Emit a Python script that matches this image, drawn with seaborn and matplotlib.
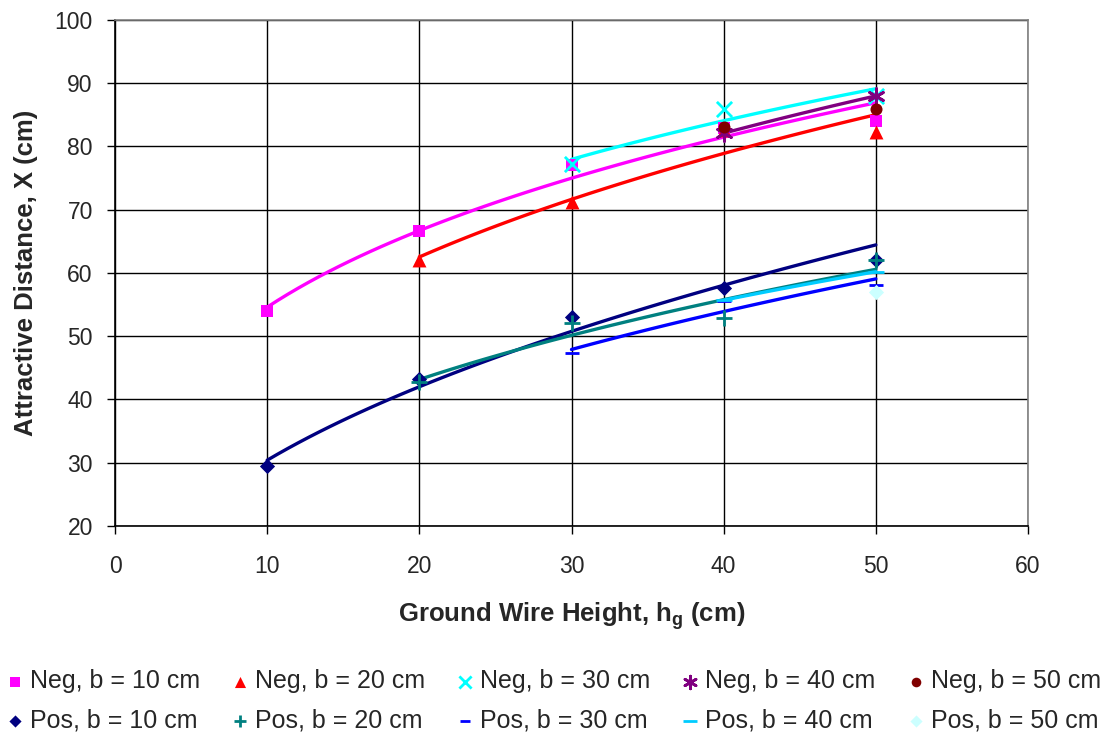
import numpy as np
import matplotlib.pyplot as plt
import seaborn as sns

sns.set_style("white")
plt.rcParams["font.family"] = ["Liberation Sans", "DejaVu Sans"]

# ground wire height h_g (cm) and attractive distance X (cm) per series
hg_neg10 = [10, 20, 30, 40, 50]
x_neg10 = [54, 66.7, 77, 83, 84]
hg_neg20 = [20, 30, 40, 50]
x_neg20 = [62, 71.3, 82.6, 82.3]
hg_neg30 = [30, 40, 50]
x_neg30 = [77.2, 86, 88]
hg_neg40 = [40, 50]
x_neg40 = [82.1, 88]
hg_neg50 = [40, 50]
x_neg50 = [83.1, 86]

hg_pos10 = [10, 20, 30, 40, 50]
x_pos10 = [29.5, 43.3, 53, 57.7, 62.1]
hg_pos20 = [20, 30, 40, 50]
x_pos20 = [42.8, 52.1, 52.9, 62]
hg_pos30 = [30, 40, 50]
x_pos30 = [47.3, 55.5, 58.1]
hg_pos40 = [40, 50]
x_pos40 = [55.7, 60.2]
hg_pos50 = [50]
x_pos50 = [57]

# (label, hg, x, color, marker, size, draw power trendline)
series = [
    ("Neg, b = 10 cm", hg_neg10, x_neg10, "#FF00FF", "s", 75, True),
    ("Pos, b = 10 cm", hg_pos10, x_pos10, "#000080", "D", 60, True),
    ("Neg, b = 20 cm", hg_neg20, x_neg20, "#FF0000", "^", 100, True),
    ("Pos, b = 20 cm", hg_pos20, x_pos20, "#008080", "+", 120, True),
    ("Neg, b = 30 cm", hg_neg30, x_neg30, "#00FFFF", "x", 120, True),
    ("Pos, b = 30 cm", hg_pos30, x_pos30, "#0000FF", "_", 90, True),
    ("Neg, b = 40 cm", hg_neg40, x_neg40, "#800080", (6, 2, 0), 130, True),
    ("Pos, b = 40 cm", hg_pos40, x_pos40, "#00CCFF", "_", 140, True),
    ("Neg, b = 50 cm", hg_neg50, x_neg50, "#800000", "o", 75, False),
    ("Pos, b = 50 cm", hg_pos50, x_pos50, "#CCFFFF", "D", 60, False),
]

fig = plt.figure(figsize=(11.08, 7.38), dpi=100)
ax = fig.add_axes([0.1038, 0.2873, 0.8240, 0.6856])

for label, hg, xd, col, mk, sz, trend in series:
    if trend:
        # Excel-style power trendline y = a * x^b
        b, lna = np.polyfit(np.log(hg), np.log(xd), 1)
        xs = np.linspace(min(hg), max(hg), 60)
        sns.lineplot(x=xs, y=np.exp(lna) * xs ** b, color=col, lw=2.4,
                     ax=ax, legend=False, errorbar=None, sort=False, zorder=3)
    sns.scatterplot(x=hg, y=xd, color=col, marker=mk, s=sz, ax=ax, zorder=4,
                    linewidth=2 if mk in ("+", "x", "_", (6, 2, 0)) else 0,
                    label=label, legend=False)

ax.set_xlim(0, 60)
ax.set_ylim(20, 100)
ax.set_xticks(range(0, 61, 10))
ax.set_yticks(range(20, 101, 10))
ax.grid(True, color="black", lw=1)
ax.set_axisbelow(True)
for s in ["left", "bottom"]:
    ax.spines[s].set_color("black")
for s in ["top", "right"]:
    ax.spines[s].set_color("#808080")
for s in ax.spines.values():
    s.set_linewidth(1.2)
ax.tick_params(axis="both", direction="out", length=6, width=1, color="black",
               labelsize=16.5, bottom=True, left=True)
ax.tick_params(axis="x", pad=15)
ax.tick_params(axis="y", pad=10)

ax.set_xlabel("Ground Wire Height, h$_\\mathregular{g}$ (cm)", fontsize=18.5,
              fontweight="bold", labelpad=16)
ax.set_ylabel("Attractive Distance, X (cm)", fontsize=18.5, fontweight="bold",
              labelpad=12)

h, l = ax.get_legend_handles_labels()
fig.legend(h, l, loc="lower center", bbox_to_anchor=(0.5, -0.023), ncol=5,
           frameon=False, fontsize=18, handlelength=0.6, handletextpad=0.3,
           columnspacing=1.3, labelspacing=0.6, markerscale=0.8)

fig.savefig("out.png", dpi=100)
